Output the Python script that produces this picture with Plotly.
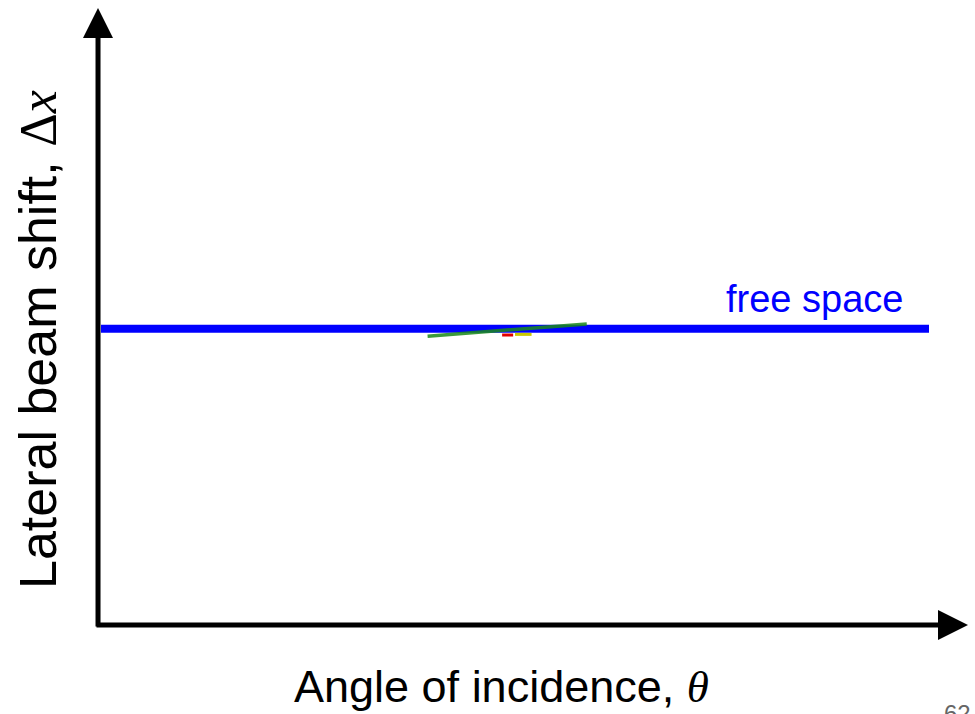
import plotly.graph_objects as go

# Angle of incidence (degrees) and lateral shift for the free-space beam
theta = [0, 90]
shift_free = [0.48, 0.48]

# Faint traces of the other media, crossing the free-space line
theta_green = [35.5, 44.0, 52.8]
shift_green = [0.468, 0.478, 0.488]
theta_red = [43.6, 44.8]
shift_red = [0.470, 0.470]
theta_yellow = [45.0, 46.8]
shift_yellow = [0.471, 0.471]

x_title = "Angle of incidence, "
y_title = "Lateral beam shift, "
series_label = "free space"
page_number = "62"

math = "font-family:'Liberation Serif'"

fig = go.Figure()
fig.add_trace(go.Scatter(x=theta, y=shift_free, mode="lines",
                         line=dict(color="#0000FF", width=8), hoverinfo="skip"))
fig.add_trace(go.Scatter(x=theta_green, y=shift_green, mode="lines",
                         line=dict(color="#1a8a1a", width=3.5), opacity=0.85, hoverinfo="skip"))
fig.add_trace(go.Scatter(x=theta_red, y=shift_red, mode="lines",
                         line=dict(color="#e00000", width=3), hoverinfo="skip"))
fig.add_trace(go.Scatter(x=theta_yellow, y=shift_yellow, mode="lines",
                         line=dict(color="#c8c800", width=3), hoverinfo="skip"))

annotations = [
    # x axis arrow (head in paper coords, tail offset in pixels)
    dict(x=1.0471, y=0.0, xref="paper", yref="paper", axref="pixel", ayref="pixel",
         ax=-873, ay=0, text="", showarrow=True, arrowhead=2, arrowwidth=5,
         arrowsize=1.2, arrowcolor="black", standoff=0, startstandoff=0),
    # y axis arrow
    dict(x=-0.0036, y=1.0, xref="paper", yref="paper", axref="pixel", ayref="pixel",
         ax=0, ay=620, text="", showarrow=True, arrowhead=2, arrowwidth=5,
         arrowsize=1.2, arrowcolor="black", standoff=0, startstandoff=0),
    dict(x=0.484, y=-0.099, xref="paper", yref="paper", showarrow=False,
         xanchor="center", yanchor="middle",
         text=x_title + f'<span style="{math}"><i>θ</i></span>',
         font=dict(family="Liberation Sans", size=45, color="black")),
    dict(x=-0.076, y=0.462, xref="paper", yref="paper", showarrow=False,
         xanchor="center", yanchor="middle", textangle=-90,
         text=y_title + f'<span style="{math}">Δ<i>x</i></span>',
         font=dict(family="Liberation Sans", size=52, color="black")),
    dict(x=77.6, y=0.528, xref="x", yref="y", showarrow=False,
         xanchor="center", yanchor="middle", text=series_label,
         font=dict(family="Liberation Sans", size=38, color="#0000FF")),
    dict(x=1.035, y=-0.118, xref="paper", yref="paper", showarrow=False,
         xanchor="center", yanchor="top", text=page_number,
         font=dict(family="Liberation Sans", size=24, color="#666666")),
]

fig.update_layout(
    width=975, height=714,
    margin=dict(l=101, r=46, t=8, b=89),
    paper_bgcolor="white", plot_bgcolor="white",
    showlegend=False,
    xaxis=dict(range=[0, 90], visible=False),
    yaxis=dict(range=[0, 1], visible=False),
    annotations=annotations,
)

fig.write_html("out.html")
